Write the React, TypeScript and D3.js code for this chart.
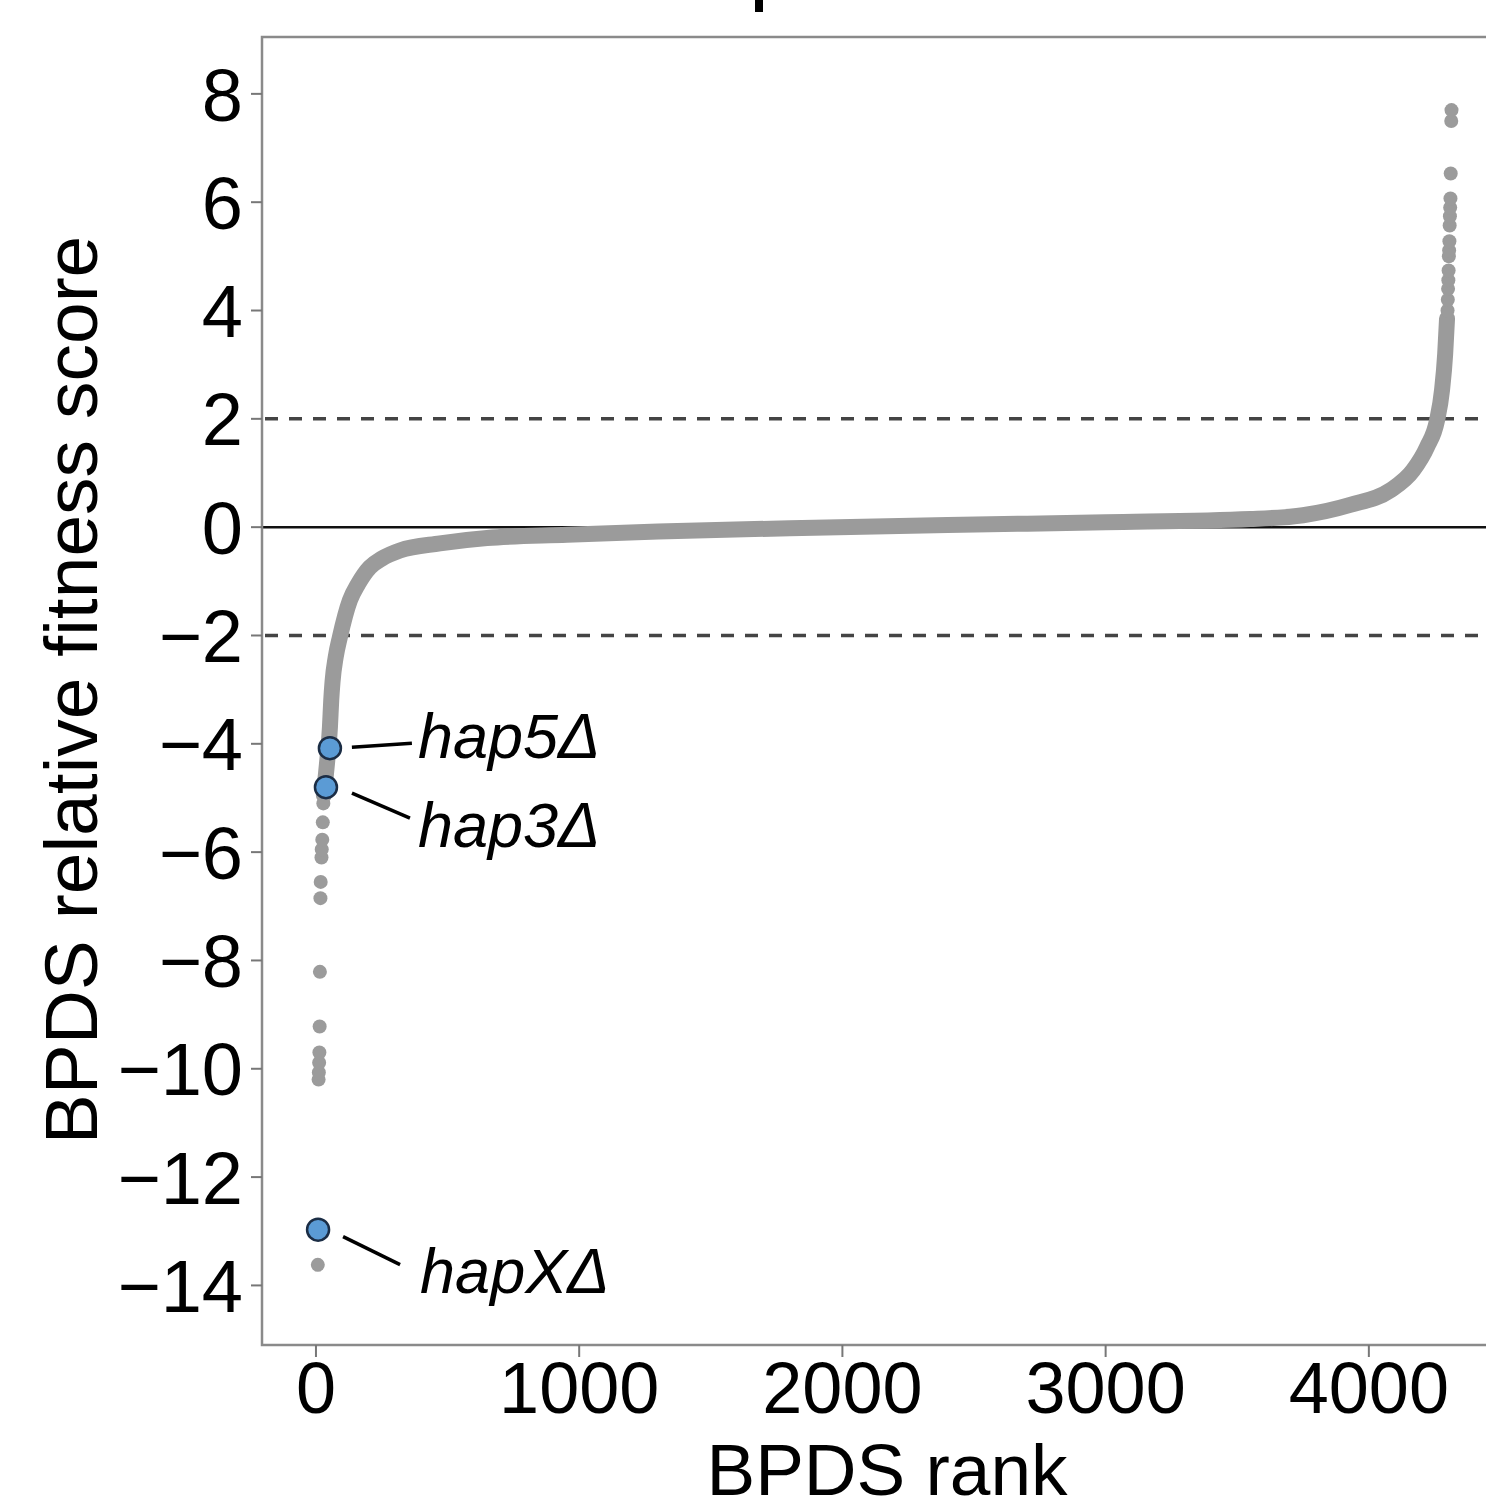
import React from "react";
import * as d3 from "d3";

// ---- Data ----
// Dense central ranked curve: anchor points read along the band
const curveRanks = [30, 35, 45, 53, 58, 63, 75, 91, 129, 160, 205, 250, 319, 471, 650, 954, 1300, 1800, 2400, 3000, 3550, 3750, 3929, 4081, 4168, 4221, 4259, 4278, 4290, 4297];
const curveScores = [-4.95, -4.7, -4.2, -3.7, -3.2, -2.85, -2.4, -2.03, -1.35, -1.05, -0.74, -0.58, -0.43, -0.3, -0.2, -0.14, -0.08, -0.02, 0.04, 0.09, 0.15, 0.22, 0.41, 0.68, 1.05, 1.48, 1.97, 2.53, 3.2, 3.85];

// Isolated low-tail points
const lowTailRanks = [7, 10, 11, 12, 13, 14, 15, 17, 18, 21, 22, 24, 26, 28];
const lowTailScores = [-13.62, -10.2, -10.07, -9.89, -9.7, -9.22, -8.21, -6.85, -6.55, -6.1, -5.95, -5.77, -5.45, -5.1];

// Isolated high-tail points
const highTailRanks = [4299, 4300, 4301, 4302, 4303, 4304, 4305, 4306, 4307, 4308, 4309, 4310, 4311, 4313, 4314];
const highTailScores = [4.0, 4.2, 4.4, 4.56, 4.74, 5.0, 5.11, 5.28, 5.57, 5.74, 5.9, 6.07, 6.53, 7.5, 7.7];

// Highlighted genes
const geneNames = ["hap5", "hap3", "hapX"];
const geneRanks = [53, 38, 8];
const geneScores = [-4.08, -4.8, -12.97];

// Axes
const yTicks = [8, 6, 4, 2, 0, -2, -4, -6, -8, -10, -12, -14];
const xTicks = [0, 1000, 2000, 3000, 4000];
const cutoffs = [2, -2];
const xTitle = "BPDS rank";
const yTitle = "BPDS relative fitness score";

const W = 1486;
const H = 1511;
const FONT = "'Liberation Sans', Arial, Helvetica, sans-serif";

export default function App() {
  const x = d3.scaleLinear().domain([-205, 4635]).range([262, 1536]);
  const y = d3.scaleLinear().domain([-15.1, 9.05]).range([1345, 37]);

  const curve = curveRanks.map((r, i) => [r, curveScores[i]] as [number, number]);
  const line = d3
    .line<[number, number]>()
    .x((d) => x(d[0]))
    .y((d) => y(d[1]))
    .curve(d3.curveMonotoneX);

  const fmt = (v: number) => (v < 0 ? "\u2212" + Math.abs(v) : String(v));
  const grey = "#9b9b9b";

  // label layout offsets relative to point (layout only)
  const labelLayout: Record<string, { l1: [number, number]; l2: [number, number]; t: [number, number] }> = {
    hap5: { l1: [22, -1], l2: [82, -5], t: [88, 10] },
    hap3: { l1: [26, 6], l2: [84, 31], t: [92, 60] },
    hapX: { l1: [25, 7], l2: [82, 35], t: [102, 63] },
  };

  return (
    <svg
      width={W}
      height={H}
      style={{ position: "absolute", left: 0, top: 0, background: "#fff" }}
      fontFamily={FONT}
    >
      <rect x={0} y={0} width={W} height={H} fill="#fff" />
      {/* clipped title fragment */}
      <line x1={759} y1={0} x2={759} y2={12} stroke="#000" strokeWidth={8} />

      {/* zero line */}
      <line x1={262} x2={1536} y1={y(0)} y2={y(0)} stroke="#111" strokeWidth={2.5} />
      {/* cutoff dashed lines */}
      {cutoffs.map((c) => (
        <line
          key={c}
          x1={265}
          x2={1536}
          y1={y(c)}
          y2={y(c)}
          stroke="#444"
          strokeWidth={3.5}
          strokeDasharray="13 11"
        />
      ))}

      {/* dense curve */}
      <path
        d={line(curve) || ""}
        fill="none"
        stroke={grey}
        strokeWidth={16}
        strokeLinecap="round"
        strokeLinejoin="round"
      />
      {lowTailRanks.map((r, i) => (
        <circle key={"l" + i} cx={x(r)} cy={y(lowTailScores[i])} r={7} fill={grey} />
      ))}
      {highTailRanks.map((r, i) => (
        <circle key={"h" + i} cx={x(r)} cy={y(highTailScores[i])} r={7} fill={grey} />
      ))}

      {/* highlighted genes */}
      {geneNames.map((g, i) => {
        const cx = x(geneRanks[i]);
        const cy = y(geneScores[i]);
        const L = labelLayout[g];
        return (
          <g key={g}>
            <line
              x1={cx + L.l1[0]}
              y1={cy + L.l1[1]}
              x2={cx + L.l2[0]}
              y2={cy + L.l2[1]}
              stroke="#000"
              strokeWidth={3.5}
            />
            <circle cx={cx} cy={cy} r={11} fill="#5b9bd5" stroke="#1b2d45" strokeWidth={2.5} />
            <text x={cx + L.t[0]} y={cy + L.t[1]} fontSize={63} fontStyle="italic" fill="#000">
              {g + "\u0394"}
            </text>
          </g>
        );
      })}

      {/* panel border */}
      <rect x={262} y={37} width={1274} height={1308} fill="none" stroke="#8a8a8a" strokeWidth={2.5} />

      {/* y axis */}
      {yTicks.map((t) => (
        <g key={"y" + t}>
          <line x1={251} x2={262} y1={y(t)} y2={y(t)} stroke="#777" strokeWidth={2} />
          <text x={243} y={y(t)} dy="0.36em" textAnchor="end" fontSize={74} fill="#000">
            {fmt(t)}
          </text>
        </g>
      ))}
      {/* x axis */}
      {xTicks.map((t) => (
        <g key={"x" + t}>
          <line x1={x(t)} x2={x(t)} y1={1345} y2={1357} stroke="#777" strokeWidth={2} />
          <text x={x(t)} y={1413} textAnchor="middle" fontSize={72} fill="#000">
            {fmt(t)}
          </text>
        </g>
      ))}

      <text x={887} y={1495} textAnchor="middle" fontSize={73} fill="#000">
        {xTitle}
      </text>
      <text
        transform={`translate(97, 690) rotate(-90)`}
        textAnchor="middle"
        fontSize={75}
        fill="#000"
      >
        {yTitle}
      </text>
    </svg>
  );
}
